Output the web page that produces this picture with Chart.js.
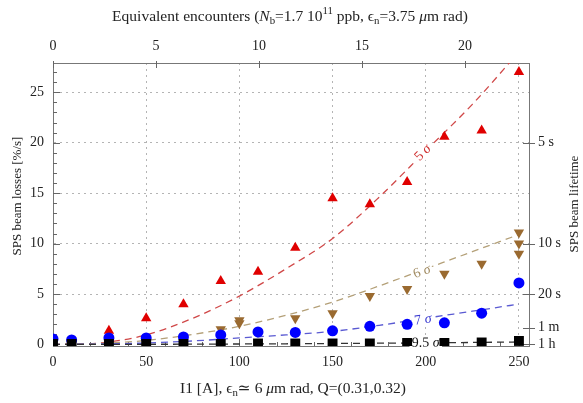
<!DOCTYPE html>
<html>
<head>
<meta charset="utf-8">
<script src="https://cdn.jsdelivr.net/npm/chart.js@4.4.1/dist/chart.umd.min.js"></script>
<style>
  html, body { margin: 0; background: #fff; }
  canvas { display: block; }
</style>
</head>
<body>
<canvas id="losses" width="583" height="403"></canvas>
<script>
// wire current scan [A] and measured losses [%/s] for each collimator setting
const currentA = [0, 10, 30, 50, 70, 90, 110, 130, 150, 170, 190, 210, 230, 250];

const loss5I = [30, 50, 70, 90, 110, 130, 150, 170, 190, 210, 230, 250];
const loss5 = [1.35, 2.6, 4.0, 6.3, 7.2, 9.6, 14.5, 13.9, 16.1, 20.6, 21.2, 27.0];

const loss6I = [90, 100, 100, 130, 150, 170, 190, 210, 230, 250, 250, 250];
const loss6 = [1.5, 2.1, 2.4, 2.6, 3.1, 4.8, 5.5, 7.0, 8.0, 11.1, 10.0, 9.0];

const loss7 = [0.55, 0.45, 0.65, 0.65, 0.75, 0.95, 1.25, 1.2, 1.35, 1.8, 2.0, 2.15, 3.1, 6.1];
const loss95 = [0.05, 0.05, 0.05, 0.05, 0.05, 0.05, 0.1, 0.1, 0.1, 0.1, 0.15, 0.15, 0.2, 0.35];

// fitted curves, read at fixed currents
const fitI = [0, 25, 50, 75, 100, 125, 150, 175, 200, 225, 250];
const fit5 = [0, 0.15, 0.95, 2.6, 4.8, 7.5, 10.5, 14.6, 19.2, 23.8, 29.0];
const fit6 = [0, 0.1, 0.4, 1.0, 1.8, 2.9, 4.2, 5.8, 7.5, 9.2, 10.9];
const fit7 = [0, 0.05, 0.15, 0.35, 0.65, 0.95, 1.3, 1.9, 2.6, 3.3, 4.0];
const fit95 = [0, 0.01, 0.02, 0.03, 0.05, 0.07, 0.1, 0.13, 0.16, 0.2, 0.25];

// axis ticks
const xTicks = [0, 50, 100, 150, 200, 250];
const yTicks = [0, 5, 10, 15, 20, 25];
const encTicks = [0, 5, 10, 15, 20];
const lifetimeTicks = [20, 10, 5, 1.667, 0.028]; // losses [%/s] matching each lifetime
const lifetimeLabels = ['5 s', '10 s', '20 s', '1 m', '1 h'];

const FONT = '"Liberation Serif", "DejaVu Serif", serif';
const xMax = 255.4, yMin = -0.15, yMax = 27.9, encMax = 23.11;

const pts = (xs, ys) => xs.map((x, i) => ({ x: x, y: ys[i] }));

// draws text made of segments (italic / sub / sup), centred on (x, y)
function drawRich(ctx, segs, x, y, rot, size, color) {
  ctx.save();
  ctx.translate(x, y);
  ctx.rotate(rot || 0);
  ctx.fillStyle = color;
  ctx.textBaseline = 'middle';
  ctx.textAlign = 'left';
  const fontOf = s => (s.it ? 'italic ' : '') + ((s.sub || s.sup) ? size * 0.7 : size).toFixed(1) + 'px ' + FONT;
  let total = 0;
  segs.forEach(s => { ctx.font = fontOf(s); total += ctx.measureText(s.t).width; });
  let cx = -total / 2;
  segs.forEach(s => {
    ctx.font = fontOf(s);
    const dy = s.sub ? size * 0.25 : s.sup ? -size * 0.35 : 0;
    ctx.fillText(s.t, cx, dy);
    cx += ctx.measureText(s.t).width;
  });
  ctx.restore();
  return total;
}

const bottomTitle = [{ t: 'I1 [A], ϵ' }, { t: 'n', sub: 1 }, { t: '≃ 6 ' }, { t: 'μ', it: 1 }, { t: 'm rad, Q=(0.31,0.32)' }];
const topTitle = [{ t: 'Equivalent encounters (' }, { t: 'N', it: 1 }, { t: 'b', sub: 1 }, { t: '=1.7 10' },
  { t: '11', sup: 1 }, { t: ' ppb, ϵ' }, { t: 'n', sub: 1 }, { t: '=3.75 ' }, { t: 'μ', it: 1 }, { t: 'm rad)' }];

const axisTitles = {
  id: 'axisTitles',
  afterDraw(chart) {
    const ctx = chart.ctx, a = chart.chartArea;
    const mid = (a.left + a.right) / 2;
    drawRich(ctx, bottomTitle, mid + 2, 389, 0, 15.5, '#222');
    drawRich(ctx, topTitle, mid - 1, 17, 0, 15.5, '#222');
    drawRich(ctx, [{ t: 'SPS beam losses [%/s]' }], 18, 196, -Math.PI / 2, 13, '#222');
    drawRich(ctx, [{ t: 'SPS beam lifetime' }], 575, 204, -Math.PI / 2, 13, '#222');
  }
};

// inward tick marks (major + minor) on all four sides
const tickMarks = {
  id: 'tickMarks',
  beforeDatasetsDraw(chart) {
    const ctx = chart.ctx, a = chart.chartArea;
    const sx = chart.scales.x, sy = chart.scales.y, sx2 = chart.scales.x2, sy2 = chart.scales.y2;
    ctx.save();
    ctx.strokeStyle = '#666';
    ctx.lineWidth = 1;
    ctx.beginPath();
    for (let v = 0; v <= sx.max; v += 10) {
      const p = Math.round(sx.getPixelForValue(v)) + 0.5;
      const len = v % 50 === 0 ? 7 : 4;
      ctx.moveTo(p, a.bottom); ctx.lineTo(p, a.bottom - len);
    }
    for (let v = 0; v <= sy.max; v += 1) {
      const p = Math.round(sy.getPixelForValue(v)) + 0.5;
      const len = v % 5 === 0 ? 7 : 4;
      ctx.moveTo(a.left, p); ctx.lineTo(a.left + len, p);
    }
    encTicks.forEach(v => {
      const p = Math.round(sx2.getPixelForValue(v)) + 0.5;
      ctx.moveTo(p, a.top - 2); ctx.lineTo(p, a.top + 5);
    });
    lifetimeTicks.forEach(v => {
      const p = Math.round(sy2.getPixelForValue(v)) + 0.5;
      ctx.moveTo(a.right - 6, p); ctx.lineTo(a.right + 6, p);
    });
    ctx.stroke();
    ctx.restore();
  }
};

// "n σ" labels laid along each fitted curve
const curveLabels = {
  id: 'curveLabels',
  afterDatasetDraw(chart, args) {
    const ds = chart.data.datasets[args.index];
    if (!ds.curveLabel) return;
    const sx = chart.scales.x, sy = chart.scales.y, ctx = chart.ctx;
    const [ix, iy] = ds.curveLabel.at;
    const d = ds.data;
    let k = 0;
    while (k < d.length - 2 && d[k + 1].x < ix) k++;
    const ang = Math.atan2(sy.getPixelForValue(d[k + 1].y) - sy.getPixelForValue(d[k].y),
                           sx.getPixelForValue(d[k + 1].x) - sx.getPixelForValue(d[k].x));
    const px = sx.getPixelForValue(ix), py = sy.getPixelForValue(iy);
    const segs = [{ t: ds.curveLabel.text + ' ' }, { t: 'σ', it: 1 }];
    ctx.save();
    ctx.font = '14px ' + FONT;
    const w = ctx.measureText(ds.curveLabel.text + ' σ').width;
    ctx.translate(px, py);
    ctx.rotate(ang);
    ctx.fillStyle = '#fff';
    ctx.fillRect(-w / 2 - 2, -7, w + 4, 14);
    ctx.restore();
    drawRich(ctx, segs, px, py, ang, 14, ds.curveLabel.color);
  }
};

function fitLine(label, xs, ys, color, at, textColor) {
  return {
    type: 'line', label: label, data: pts(xs, ys), order: 2,
    borderColor: color, borderWidth: 1.3, borderDash: [7, 5],
    pointRadius: 0, fill: false, cubicInterpolationMode: 'monotone',
    curveLabel: { text: label, at: at, color: textColor }
  };
}

function markers(label, xs, ys, color, style, radius, rotation) {
  return {
    type: 'scatter', label: label, data: pts(xs, ys), order: 0,
    backgroundColor: color, borderColor: color, borderWidth: 0,
    pointStyle: style, pointRadius: radius, pointRotation: rotation || 0
  };
}

const gridColor = ctx => (ctx.tick && ctx.tick.value === 0) ? 'rgba(0,0,0,0)' : '#b4b4b4';
const tickFont = { family: FONT, size: 14 };

new Chart(document.getElementById('losses'), {
  data: {
    datasets: [
      fitLine('9.5', fitI, fit95, '#333333', [200, 0.15], '#111'),
      fitLine('7', fitI, fit7, '#5a5ad2', [198.5, 2.45], '#3a3ad0'),
      fitLine('6', fitI, fit6, '#b4a078', [198, 7.2], '#a08a60'),
      fitLine('5', fitI, fit5, '#d04848', [198.5, 19.0], '#d03030'),
      markers('9.5 σ', currentA, loss95, '#000000', 'rect', 7),
      markers('7 σ', currentA, loss7, '#0000ff', 'circle', 5.5),
      markers('6 σ', loss6I, loss6, '#9a6a30', 'triangle', 6, 180),
      markers('5 σ', loss5I, loss5, '#e00000', 'triangle', 6)
    ]
  },
  options: {
    responsive: false,
    animation: false,
    layout: { padding: 0 },
    plugins: { legend: { display: false }, tooltip: { enabled: false } },
    scales: {
      x: {
        type: 'linear', position: 'bottom', min: 0, max: xMax,
        afterBuildTicks: s => { s.ticks = xTicks.map(v => ({ value: v })); },
        afterFit: s => { s.height = 57; },
        grid: { color: gridColor, drawTicks: false },
        border: { color: '#777', dash: [2, 4] },
        ticks: { padding: 8, color: '#222', font: tickFont, maxRotation: 0 }
      },
      x2: {
        type: 'linear', position: 'top', min: 0, max: encMax,
        afterBuildTicks: s => { s.ticks = encTicks.map(v => ({ value: v })); },
        afterFit: s => { s.height = 63; },
        grid: { drawOnChartArea: false, drawTicks: false },
        border: { color: '#777' },
        ticks: { padding: 8, color: '#222', font: tickFont, maxRotation: 0 }
      },
      y: {
        type: 'linear', position: 'left', min: yMin, max: yMax,
        afterBuildTicks: s => { s.ticks = yTicks.map(v => ({ value: v })); },
        afterFit: s => { s.width = 53; },
        grid: { color: gridColor, drawTicks: false },
        border: { color: '#777', dash: [2, 4] },
        ticks: { padding: 9, color: '#222', font: tickFont }
      },
      y2: {
        type: 'linear', position: 'right', min: yMin, max: yMax,
        afterBuildTicks: s => { s.ticks = lifetimeTicks.map(v => ({ value: v })); },
        afterFit: s => { s.width = 54; },
        grid: { drawOnChartArea: false, drawTicks: false },
        border: { color: '#777' },
        ticks: { padding: 9, color: '#222', font: tickFont, callback: (v, i) => lifetimeLabels[i] }
      }
    }
  },
  plugins: [tickMarks, curveLabels, axisTitles]
});
</script>
</body>
</html>
